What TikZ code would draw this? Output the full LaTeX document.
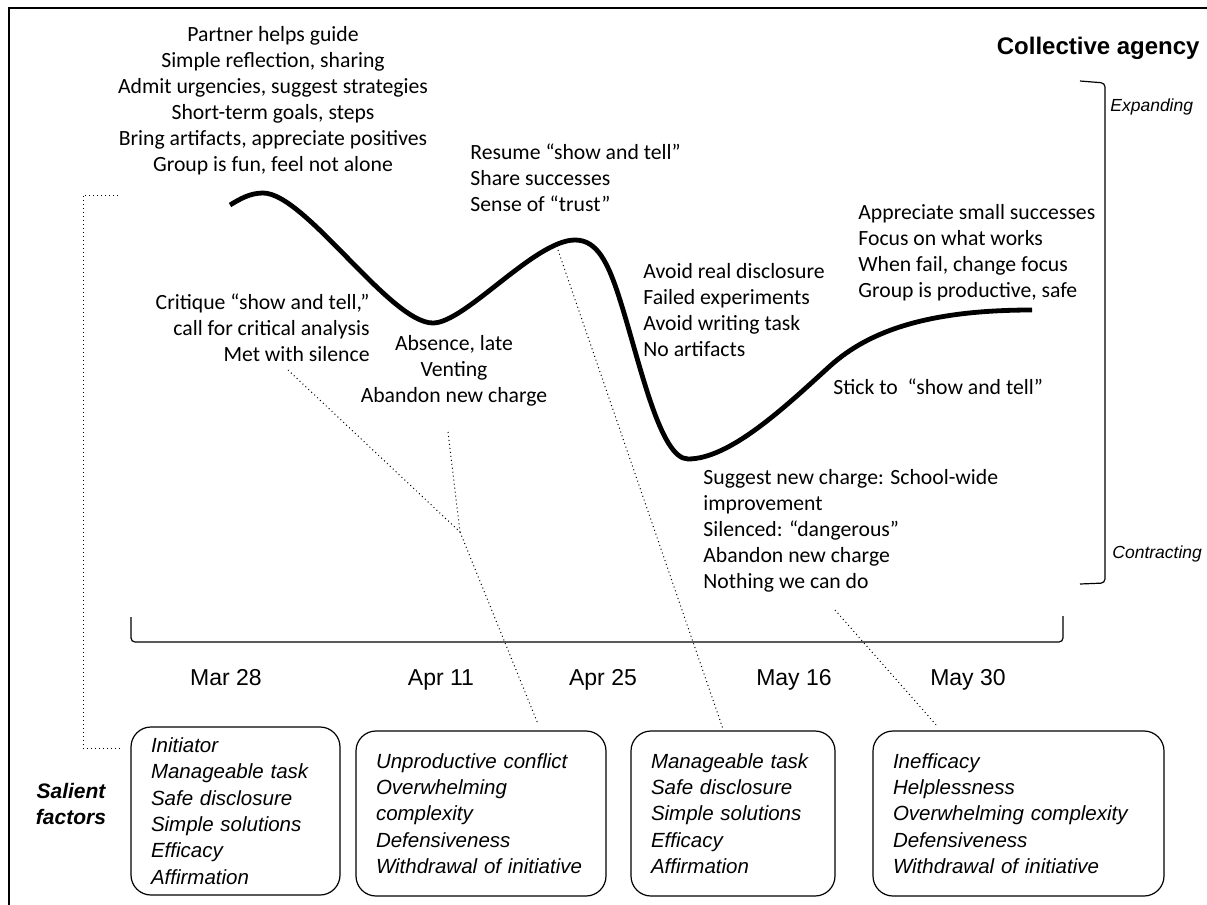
\documentclass[tikz,border=0pt]{standalone}
\usepackage{fontspec}
\setmainfont{Carlito}
\newfontfamily\arialf{Liberation Sans}
\begin{document}
\begin{tikzpicture}[x=0.5pt,y=-0.5pt,
  cal/.style={inner sep=0pt, font=\fontsize{10.85}{13}\selectfont},
  fbox/.style={draw, line width=0.6pt, rounded corners=10pt, inner xsep=10pt, inner ysep=0pt, align=left, font=\arialf\itshape\fontsize{10.25}{13.15}\selectfont},
  datef/.style={inner sep=0pt, anchor=base, font=\arialf\fontsize{11.5}{13}\selectfont},
  sidef/.style={inner sep=0pt, font=\arialf\itshape\fontsize{8.75}{10}\selectfont},
  dot/.style={line width=0.5pt, dash pattern=on 0.5pt off 1.5pt},
  brk/.style={line width=0.6pt, rounded corners=2pt},
  curve/.style={line width=2.4pt}]
\clip (0,0) rectangle (1207,905);
\useasboundingbox (0,0) rectangle (1207,905);
\draw[line width=1pt] (9,8) rectangle (1240,940);

% curve
\draw[curve] (230,205) .. controls (240,199) and (250,193) .. (263,193)
  .. controls (305,193) and (390,323) .. (433,323)
  .. controls (465,323) and (535,240) .. (575,240)
  .. controls (597,240) and (608,262) .. (620,300)
  .. controls (640,363) and (660,459) .. (688,459)
  .. controls (730,459) and (785,407) .. (830,366)
  .. controls (870,330) and (930,310) .. (1032,310);

% texts
\node[cal, align=center, anchor=north] (t1) at (273,26) {Partner helps guide\\Simple reflection, sharing\\Admit urgencies, suggest strategies\\Short-term goals, steps\\Bring artifacts, appreciate positives\\Group is fun, feel not alone};
\node[cal, align=right, anchor=north east] (t2) at (370,293) {Critique “show and tell,”\\call for critical analysis\\Met with silence};
\node[cal, align=center, anchor=north] (t3) at (454,335) {Absence, late\\Venting\\Abandon new charge};
\node[cal, align=left, anchor=north west] (t4) at (470,143) {Resume “show and tell”\\Share successes\\Sense of “trust”};
\node[cal, align=left, anchor=north west] (t5) at (643,263) {Avoid real disclosure\\Failed experiments\\Avoid writing task\\No artifacts};
\node[cal, align=left, anchor=north west] (t6) at (858,204) {Appreciate small successes\\Focus on what works\\When fail, change focus\\Group is productive, safe};
\node[cal, align=left, anchor=north west] (t7) at (833,378) {Stick to\ \ “show and tell”};
\node[cal, align=left, anchor=north west] (t8) at (703,469) {Suggest new charge: School-wide\\improvement\\Silenced: “dangerous”\\Abandon new charge\\Nothing we can do};

\node[inner sep=0pt, anchor=base east, font=\arialf\bfseries\fontsize{12}{14}\selectfont] (ca) at (1200,54) {Collective agency};
\node[sidef, anchor=base west] (exp) at (1110,111) {Expanding};
\node[sidef, anchor=base west] (con) at (1112,558) {Contracting};

% right bracket
\draw[brk] (1080,81) -- (1105,83) -- (1105,583) -- (1080,584);
% timeline bracket
\draw[brk] (131,617) -- (131,642) -- (1063,642) -- (1063,616);

% dates
\node[datef] (d1) at (226,685) {Mar 28};
\node[datef] (d2) at (441,685) {Apr 11};
\node[datef] (d3) at (603,685) {Apr 25};
\node[datef] (d4) at (794,685) {May 16};
\node[datef] (d5) at (968,685) {May 30};

% boxes
\node[fbox, text width=84.5pt, minimum height=84pt] (b1) at (235.5,811) {Initiator\\Manageable task\\Safe disclosure\\Simple solutions\\Efficacy\\Affirmation};
\node[fbox, text width=105pt, minimum height=82.5pt] (b2) at (481,813.5) {Unproductive conflict\\Overwhelming\\complexity\\Defensiveness\\Withdrawal of initiative};
\node[fbox, text width=82pt, minimum height=82.5pt] (b3) at (733,813.5) {Manageable task\\Safe disclosure\\Simple solutions\\Efficacy\\Affirmation};
\node[fbox, text width=125.5pt, minimum height=82.5pt] (b4) at (1018.5,813.5) {Inefficacy\\Helplessness\\Overwhelming complexity\\Defensiveness\\Withdrawal of initiative};

\node[inner sep=0pt, align=center, font=\arialf\bfseries\itshape\fontsize{10.5}{13}\selectfont] (sf) at (71,804) {Salient\\factors};

% dotted connectors
\coordinate (l1) at (118,195);
\coordinate (l2) at (83,195);
\coordinate (l3) at (83,748);
\coordinate (l4) at (121,748);
\draw[dot] (l1) -- (l2) -- (l3) -- (l4);

\coordinate (a1) at (288,370);
\coordinate (a2) at (448,432);
\coordinate (aj) at (460,532);
\coordinate (ae) at (538,724);
\draw[dot] (a1) -- (aj);
\draw[dot] (a2) -- (aj);
\draw[dot] (aj) -- (ae);

\coordinate (p1) at (558,250);
\coordinate (pe) at (723,729);
\draw[dot] (p1) -- (pe);

\coordinate (n1) at (835,610);
\coordinate (ne) at (938,727);
\draw[dot] (n1) -- (ne);
\end{tikzpicture}
\end{document}
